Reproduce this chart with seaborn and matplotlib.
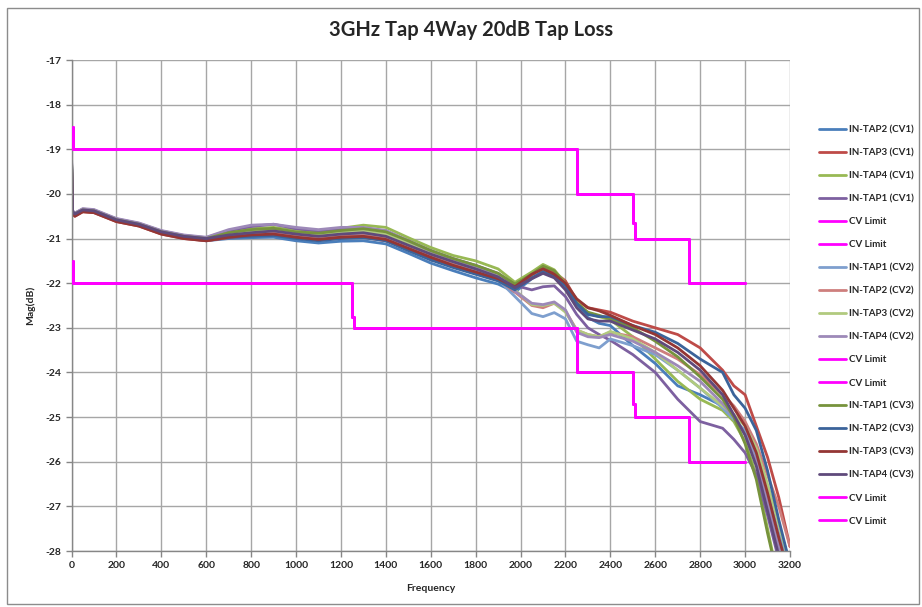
import numpy as np
import pandas as pd
import matplotlib
matplotlib.use("Agg")
import matplotlib.pyplot as plt
import seaborn as sns
from matplotlib.patches import Rectangle

sns.set_style("white")
plt.rcParams['font.family'] = ['Lato', 'DejaVu Sans']

# ---------------- data ----------------
freq = [0, 5, 15, 50, 100, 200, 300, 400, 500, 600,
        700, 800, 900, 1000, 1100, 1200, 1300, 1400, 1500, 1600, 1700, 1800, 1900,
        1975, 2050, 2100, 2150, 2200, 2250, 2300, 2350, 2400,
        2500, 2600, 2700, 2800, 2900, 2950, 3000, 3050, 3100, 3150, 3200]

cv1_tap2 = [-19.25, -20.42, -20.47, -20.38, -20.4, -20.6, -20.7, -20.88, -20.98, -21.05,
            -21.0, -20.98, -20.97, -21.05, -21.1, -21.06, -21.05, -21.12, -21.33, -21.55, -21.72, -21.88, -22.02,
            -22.2, -21.9, -21.72, -21.82, -22.1, -22.5, -22.77, -22.9, -22.95,
            -23.4, -23.8, -24.3, -24.5, -24.75, -24.95, -25.4, -26.0, -26.9, -27.8, -28.6]
cv1_tap3 = [-19.3, -20.45, -20.5, -20.4, -20.42, -20.62, -20.72, -20.9, -21.0, -21.05,
            -20.98, -20.93, -20.9, -20.98, -21.03, -20.97, -20.97, -21.05, -21.25, -21.45, -21.62, -21.77, -21.93,
            -22.1, -21.82, -21.65, -21.75, -21.95, -22.38, -22.55, -22.6, -22.65,
            -22.85, -23.0, -23.15, -23.45, -23.95, -24.3, -24.5, -25.2, -25.9, -26.8, -27.9]
cv1_tap4 = [-19.2, -20.4, -20.45, -20.36, -20.38, -20.58, -20.68, -20.85, -20.95, -21.0,
            -20.85, -20.78, -20.75, -20.82, -20.85, -20.77, -20.7, -20.75, -20.98, -21.2, -21.38, -21.5, -21.68,
            -21.98, -21.75, -21.58, -21.7, -22.0, -22.4, -22.68, -22.75, -22.82,
            -23.2, -23.7, -24.2, -24.6, -24.85, -25.1, -25.55, -26.3, -27.5, -28.7, -29.5]
cv1_tap1 = [-19.1, -20.38, -20.43, -20.34, -20.36, -20.56, -20.66, -20.83, -20.93, -20.98,
            -20.82, -20.73, -20.68, -20.78, -20.83, -20.78, -20.77, -20.83, -21.05, -21.27, -21.45, -21.6, -21.78,
            -22.05, -22.15, -22.08, -22.06, -22.3, -22.7, -23.0, -23.15, -23.28,
            -23.6, -24.0, -24.6, -25.1, -25.25, -25.5, -25.8, -26.3, -27.2, -28.2, -29.2]

cv2_tap1 = [-19.2, -20.4, -20.45, -20.36, -20.38, -20.58, -20.68, -20.85, -20.95, -21.0,
            -20.9, -20.85, -20.82, -20.9, -20.95, -20.9, -20.88, -20.95, -21.15, -21.35, -21.55, -21.72, -21.92,
            -22.3, -22.68, -22.75, -22.66, -22.8, -23.3, -23.38, -23.45, -23.25,
            -23.4, -23.6, -23.95, -24.35, -24.8, -25.05, -25.3, -25.9, -26.7, -27.6, -28.4]
cv2_tap2 = [-19.25, -20.42, -20.47, -20.38, -20.4, -20.6, -20.7, -20.87, -20.97, -21.02,
            -20.95, -20.9, -20.88, -20.95, -21.0, -20.95, -20.93, -21.0, -21.2, -21.4, -21.58, -21.75, -21.92,
            -22.2, -22.5, -22.55, -22.45, -22.62, -23.05, -23.15, -23.2, -23.1,
            -23.2, -23.45, -23.7, -24.05, -24.5, -24.75, -25.1, -25.6, -26.3, -27.0, -27.9]
cv2_tap3 = [-19.2, -20.4, -20.45, -20.36, -20.38, -20.58, -20.68, -20.85, -20.95, -21.0,
            -20.88, -20.82, -20.78, -20.85, -20.9, -20.85, -20.83, -20.9, -21.1, -21.3, -21.48, -21.65, -21.85,
            -22.15, -22.48, -22.5, -22.45, -22.65, -23.05, -23.15, -23.2, -23.08,
            -23.25, -23.55, -23.95, -24.35, -24.75, -24.95, -25.2, -25.7, -26.5, -27.4, -28.3]
cv2_tap4 = [-19.15, -20.38, -20.43, -20.33, -20.35, -20.55, -20.65, -20.82, -20.92, -20.97,
            -20.8, -20.7, -20.68, -20.75, -20.8, -20.75, -20.75, -20.82, -21.05, -21.28, -21.47, -21.63, -21.85,
            -22.18, -22.45, -22.48, -22.42, -22.6, -23.1, -23.2, -23.22, -23.15,
            -23.3, -23.55, -23.85, -24.2, -24.7, -25.0, -25.4, -26.0, -26.9, -27.9, -28.8]

cv3_tap1 = [-19.2, -20.4, -20.45, -20.36, -20.38, -20.58, -20.68, -20.85, -20.95, -21.0,
            -20.87, -20.8, -20.77, -20.85, -20.88, -20.82, -20.78, -20.85, -21.05, -21.27, -21.45, -21.6, -21.78,
            -22.02, -21.8, -21.62, -21.72, -22.02, -22.45, -22.65, -22.72, -22.8,
            -23.0, -23.3, -23.65, -24.1, -24.6, -25.0, -25.6, -26.4, -27.6, -28.7, -29.5]
cv3_tap2 = [-19.25, -20.42, -20.47, -20.38, -20.4, -20.6, -20.7, -20.87, -20.97, -21.03,
            -20.97, -20.95, -20.93, -21.0, -21.05, -21.0, -20.98, -21.05, -21.27, -21.48, -21.65, -21.8, -21.95,
            -22.15, -21.88, -21.75, -21.85, -22.05, -22.45, -22.7, -22.75, -22.75,
            -22.95, -23.1, -23.35, -23.7, -24.0, -24.5, -24.8, -25.3, -26.2, -27.3, -28.3]
cv3_tap3 = [-19.3, -20.45, -20.5, -20.4, -20.42, -20.62, -20.72, -20.9, -21.0, -21.05,
            -20.97, -20.92, -20.9, -20.97, -21.02, -20.97, -20.95, -21.02, -21.22, -21.42, -21.6, -21.75, -21.9,
            -22.08, -21.8, -21.68, -21.8, -22.0, -22.35, -22.55, -22.62, -22.72,
            -22.95, -23.15, -23.45, -23.85, -24.4, -24.8, -25.2, -25.8, -26.7, -27.7, -28.6]
cv3_tap4 = [-19.2, -20.4, -20.45, -20.36, -20.38, -20.58, -20.68, -20.85, -20.95, -21.0,
            -20.92, -20.87, -20.83, -20.9, -20.95, -20.9, -20.87, -20.95, -21.15, -21.35, -21.52, -21.68, -21.86,
            -22.1, -21.9, -21.78, -21.88, -22.15, -22.55, -22.8, -22.85, -22.85,
            -23.05, -23.25, -23.55, -23.95, -24.5, -24.95, -25.4, -26.1, -27.1, -28.1, -29.0]

# CV limit lines (upper / lower)
upper_freq = [5, 5, 2250, 2250, 2500, 2500, 2510, 2510, 2750, 2750, 3000]
upper_mag = [-18.5, -19, -19, -20, -20, -20.65, -20.65, -21, -21, -22, -22]
lower_freq = [5, 5, 1250, 1250, 1260, 1260, 2250, 2250, 2500, 2500, 2510, 2510, 2750, 2750, 3000]
lower_mag = [-21.5, -22, -22, -22.75, -22.75, -23, -23, -24, -24, -24.7, -24.7, -25, -25, -26, -26]

x_ticks = list(range(0, 3201, 200))
y_ticks = list(range(-28, -16, 1))

series = [
    ("IN-TAP2 (CV1)", cv1_tap2, "#4A7EBB"),
    ("IN-TAP3 (CV1)", cv1_tap3, "#BE4B48"),
    ("IN-TAP4 (CV1)", cv1_tap4, "#98B954"),
    ("IN-TAP1 (CV1)", cv1_tap1, "#7D60A0"),
    ("CV Limit", "upper", "#FF00FF"),
    ("CV Limit", "lower", "#FF00FF"),
    ("IN-TAP1 (CV2)", cv2_tap1, "#7E9FCE"),
    ("IN-TAP2 (CV2)", cv2_tap2, "#CE7F7D"),
    ("IN-TAP3 (CV2)", cv2_tap3, "#B1CA7E"),
    ("IN-TAP4 (CV2)", cv2_tap4, "#9D89B8"),
    ("CV Limit", "upper", "#FF00FF"),
    ("CV Limit", "lower", "#FF00FF"),
    ("IN-TAP1 (CV3)", cv3_tap1, "#77933C"),
    ("IN-TAP2 (CV3)", cv3_tap2, "#3B639A"),
    ("IN-TAP3 (CV3)", cv3_tap3, "#943634"),
    ("IN-TAP4 (CV3)", cv3_tap4, "#5F4A7B"),
    ("CV Limit", "upper", "#FF00FF"),
    ("CV Limit", "lower", "#FF00FF"),
]

# ---------------- figure ----------------
W, H = 922, 607
fig = plt.figure(figsize=(W / 100, H / 100), dpi=100)
ax = fig.add_axes([71.5 / W, 1 - 551 / H, (790 - 71.5) / W, (551 - 60) / H])

# outer chart border
fig.patches.append(Rectangle((7 / W, 3 / H), (919 - 7) / W, (599 - 3) / H,
                             transform=fig.transFigure, fill=False,
                             edgecolor="#8C8C8C", linewidth=1.0))

for label, vals, color in series:
    if isinstance(vals, str):
        fx = upper_freq if vals == "upper" else lower_freq
        fy = upper_mag if vals == "upper" else lower_mag
        df = pd.DataFrame({"Frequency": fx, "Mag": fy})
        sns.lineplot(data=df, x="Frequency", y="Mag", ax=ax, color=color,
                     linewidth=2.0, estimator=None, sort=False, label=label, zorder=3)
    else:
        df = pd.DataFrame({"Frequency": freq, "Mag": vals})
        sns.lineplot(data=df, x="Frequency", y="Mag", ax=ax, color=color,
                     linewidth=2.0, estimator=None, sort=False, label=label, zorder=2)

ax.set_xlim(0, 3200)
ax.set_ylim(-28, -17)
ax.set_xticks(x_ticks)
ax.set_yticks(y_ticks)
ax.set_xticklabels([str(v) for v in x_ticks])
ax.set_yticklabels([str(v) for v in y_ticks])
ax.grid(True, color="#A6A6A6", linewidth=1.0)
ax.set_axisbelow(True)
for s in ["top", "right"]:
    ax.spines[s].set_visible(False)
for s in ["left", "bottom"]:
    ax.spines[s].set_color("#868686")
    ax.spines[s].set_linewidth(1.0)
ax.tick_params(axis="both", which="major", length=4, width=1, color="#868686",
               labelsize=7.5, pad=3, direction="out", left=True, bottom=True)
for lab in ax.get_xticklabels() + ax.get_yticklabels():
    lab.set_fontweight("bold")

ax.set_xlabel("Frequency", fontsize=7.5, fontweight="bold", labelpad=10)
ax.set_ylabel("Mag(dB)", fontsize=7.5, fontweight="bold", labelpad=8)

fig.text(471 / W, 1 - 30 / H, "3GHz Tap 4Way 20dB Tap Loss", ha="center", va="center",
         fontsize=14.5, fontweight="bold")

leg = ax.legend(loc="upper left", bbox_to_anchor=(819 / W, 1 - 125 / H),
                bbox_transform=fig.transFigure, frameon=False, fontsize=7,
                handlelength=2.8, handletextpad=0.25, labelspacing=1.44,
                borderaxespad=0, borderpad=0)
for t in leg.get_texts():
    t.set_fontweight("bold")

fig.savefig("out.png", dpi=100)
